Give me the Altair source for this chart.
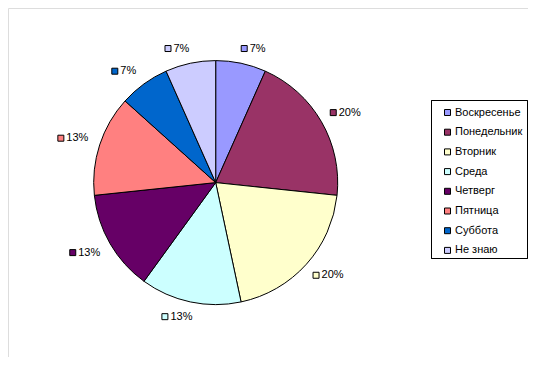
import altair as alt
import pandas as pd

days = ["Воскресенье", "Понедельник", "Вторник", "Среда", "Четверг", "Пятница", "Суббота", "Не знаю"]
counts = [1, 3, 3, 2, 2, 2, 1, 1]
labels = ["7%", "20%", "20%", "13%", "13%", "13%", "7%", "7%"]
colors = ["#9999FF", "#993366", "#FFFFCC", "#CCFFFF", "#660066", "#FF8080", "#0066CC", "#CCCCFF"]

df = pd.DataFrame({"day": days, "count": counts, "label": labels, "idx": list(range(len(days)))})

CX, CY, R = 207.7, 174.6, 122

color_scale = alt.Scale(domain=days, range=colors)

pie = alt.Chart(df).mark_arc(outerRadius=R, stroke="black", strokeWidth=1).encode(
    theta=alt.Theta("count:Q", stack=True),
    order=alt.Order("idx:Q"),
    color=alt.Color(
        "day:N",
        scale=color_scale,
        sort=days,
        legend=alt.Legend(
            title=None,
            orient="none",
            legendX=434,
            legendY=99,
            symbolType="square",
            symbolSize=36,
            symbolStrokeColor="black",
            symbolStrokeWidth=1,
            symbolOpacity=1,
            labelFont="Liberation Sans",
            labelFontSize=11,
            labelColor="black",
            labelOffset=2,
            rowPadding=7.7,
            padding=0,
            labelLimit=200,
        ),
    ),
    x=alt.value(CX),
    y=alt.value(CY),
)

# label anchor positions derived from the stacked slice angles
lab = (
    alt.Chart(df)
    .transform_window(cum="sum(count)", sort=[alt.SortField("idx")], frame=[None, 0])
    .transform_joinaggregate(total="sum(count)")
    .transform_calculate(a="(datum.cum - datum.count/2) / datum.total * 2 * PI")
    .transform_calculate(s="sin(datum.a)", c="cos(datum.a)")
    .transform_calculate(
        ax=f"{CX} + 140*datum.s + 9*(datum.s > 0 ? 1 : -1)",
        ay=f"{CY} - (134*datum.c + 3*(datum.c > 0 ? 1 : -1))",
        hw="6.9 + 3.1*length(datum.label)",
    )
    .transform_calculate(sqx="datum.ax - datum.hw + 3.5", tx="datum.ax - datum.hw + 9")
)

squares = lab.mark_square(size=36, stroke="black", strokeWidth=1, opacity=1).encode(
    x=alt.X("sqx:Q", scale=None, axis=None),
    y=alt.Y("ay:Q", scale=None, axis=None),
    fill=alt.Fill("day:N", scale=color_scale, legend=None),
)

texts = lab.mark_text(align="left", baseline="middle", font="Liberation Sans", fontSize=11, color="black").encode(
    x=alt.X("tx:Q", scale=None, axis=None),
    y=alt.Y("ay:Q", scale=None, axis=None),
    text="label:N",
)

frame = alt.Chart(df).mark_rect(fill="white", stroke="black", strokeWidth=1).encode(
    x=alt.value(423.5), x2=alt.value(519.5), y=alt.value(92.5), y2=alt.value(250.5)
)

chart = (
    alt.layer(frame, pie, squares, texts)
    .properties(width=520, height=349, autosize=alt.AutoSizeParams(type="none"), padding=0)
    .configure_view(stroke=None)
    .configure(background="white")
)

chart.save("out.html", embed_options={"renderer": "svg", "actions": False})
